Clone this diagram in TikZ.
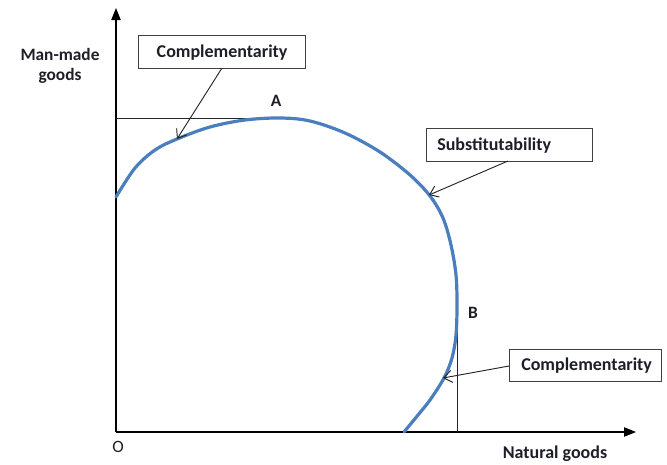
\documentclass[tikz,border=0pt]{standalone}
\usepackage{fontspec}
\setmainfont{Carlito}
\usetikzlibrary{arrows.meta}
\definecolor{curveblue}{RGB}{74,126,190}
\definecolor{txt}{RGB}{30,30,40}
\tikzset{
  lbl/.style={draw=black!75, line width=0.9pt, fill=white, inner sep=0pt, anchor=north west},
  lbltext/.style={text=txt, font=\bfseries\fontsize{13.5}{16}\selectfont, inner sep=0pt},
  pointer/.style={draw=black!85, line width=0.7pt, -{Straight Barb[length=6pt,width=9pt]}},
  axis/.style={draw=black, line width=0.9pt, -{Triangle[length=9pt,width=7pt]}},
  guide/.style={draw=black!85, line width=0.7pt},
  axlbl/.style={text=txt, font=\bfseries\fontsize{13}{15}\selectfont, align=center},
}
\begin{document}
\begin{tikzpicture}[x=0.75pt,y=-0.75pt]
\useasboundingbox (0,0) rectangle (667,464);
% axes
\coordinate (O) at (116,432);
\coordinate (ytop) at (116,8);
\coordinate (xend) at (636,432);
\draw[axis] (O) -- (ytop);
\draw[axis] (O) -- (xend);
\node[text=txt, font=\fontsize{13}{15}\selectfont] (olbl) at (118,447) {O};
\node[axlbl] (ylbl) at (60,66) {Man-made\\goods};
\node[axlbl, font=\bfseries\fontsize{13.5}{15}\selectfont] (xlbl) at (555,454) {Natural goods};
% guide lines
\coordinate (g1) at (116,118);
\coordinate (Apt) at (276,118);
\draw[guide] (g1) -- (Apt);
\coordinate (Bpt) at (457,300);
\coordinate (Bbase) at (457,432);
\draw[guide] (Bpt) -- (Bbase);
\node[axlbl] (A) at (276,101) {A};
\node[axlbl] (B) at (473,313) {B};
% curve
\draw[curveblue, line width=2.4pt, line cap=round] plot[smooth, tension=0.55] coordinates {
 (116,197) (135,168) (155,150) (177,139) (210,127) (245,120) (280,118) (310,121) (345,133)
 (380,152) (410,175) (430,196) (443,218) (451,245) (456,275) (457,305) (456,335) (452,358)
 (444,378) (430,400) (418,415) (404,432)};
% targets on curve
\coordinate (t1) at (177,139);
\coordinate (t2) at (429,195);
\coordinate (t3) at (443,378);
% boxes
\node[lbl, minimum width=167*0.75pt, minimum height=33*0.75pt] (c1) at (138,35) {};
\node[lbltext] (c1t) at (c1.center) {Complementarity};
\node[lbl, minimum width=166*0.75pt, minimum height=33*0.75pt] (s1) at (426,128) {};
\node[lbltext, anchor=west] (s1t) at ([xshift=11*0.75pt]s1.west) {Substitutability};
\node[lbl, minimum width=152*0.75pt, minimum height=32*0.75pt] (c2) at (509,349) {};
\node[lbltext, anchor=west] (c2t) at ([xshift=12*0.75pt]c2.west) {Complementarity};
% pointers
\coordinate (p1) at (222,68);
\coordinate (p2) at (508,161);
\coordinate (p3) at (509,366);
\draw[pointer] (p1) -- (t1);
\draw[pointer] (p2) -- (t2);
\draw[pointer] (p3) -- (t3);
\end{tikzpicture}
\end{document}
